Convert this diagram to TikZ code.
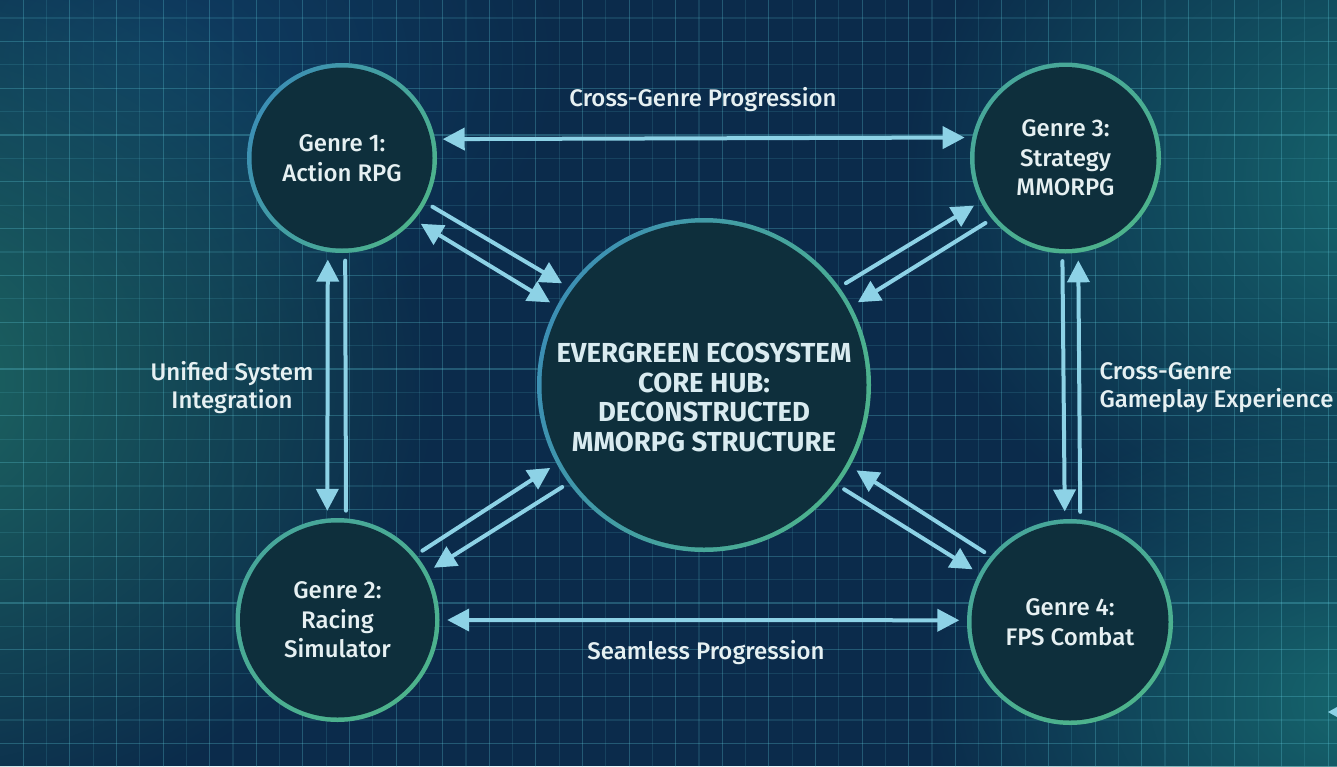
\documentclass[tikz,border=0pt]{standalone}
\usepackage{fontspec}
\setmainfont{Fira Sans}[UprightFont={* Medium}, BoldFont={* Bold}]
\usetikzlibrary{arrows.meta,fadings}
\definecolor{navy}{HTML}{0B2B4B}
\definecolor{tealleft}{HTML}{1E6A64}
\definecolor{tealright}{HTML}{17696F}
\definecolor{bluetop}{HTML}{0F3D62}
\definecolor{gridcol}{HTML}{5CC6D6}
\definecolor{core}{HTML}{0E2F3C}
\definecolor{ringblue}{HTML}{3C8FB4}
\definecolor{ringgreen}{HTML}{4DB38C}
\definecolor{arrowblue}{HTML}{8DD2E6}
\definecolor{txt}{HTML}{E6F0F2}
\definecolor{hubtxt}{HTML}{D9EBF0}
\tikzfading[name=glow, inner color=transparent!0, outer color=transparent!100]

\begin{document}
\begin{tikzpicture}[x=1pt,y=-1pt, line join=round, line cap=round,
	genre/.style={circle, fill=core, text=txt, align=center, inner sep=0pt,
		font=\fontsize{24}{29.5}\selectfont},
	hubnode/.style={circle, fill=core, text=hubtxt, align=center, inner sep=0pt,
		font=\fontsize{27.5}{29.5}\selectfont\bfseries},
	lbl/.style={text=txt, font=\fontsize{24}{28}\selectfont},
	ring/.style={left color=ringblue, right color=ringgreen},
	greenring/.style={left color=ringgreen!65!ringblue, right color=ringgreen},
	flow/.style={draw=arrowblue, line width=4pt, shorten <=12pt, shorten >=12pt,
		>={Triangle[length=22pt,width=22pt]}}]
	\useasboundingbox (0,0) rectangle (1337,766);
	
	% background
	\fill[navy] (0,0) rectangle (1337,766);
	\fill[bluetop, path fading=glow] (150,60) ellipse (420pt and 300pt);
	\fill[tealleft, path fading=glow] (-120,380) ellipse (560pt and 460pt);
	\fill[tealright, path fading=glow] (1420,180) ellipse (520pt and 420pt);
	\fill[tealright, path fading=glow] (1380,700) ellipse (460pt and 300pt);
	
	% grid
	\foreach \i in {1,...,57}{
		\pgfmathsetmacro\op{isodd(\i) ? 0.3 : 0.15}
		\draw[gridcol, opacity=\op, line width=1.1pt] (23.3*\i,0) -- (23.3*\i,766);
	}
	\foreach \j in {0,...,32}{
		\pgfmathsetmacro\op{isodd(\j) ? 0.3 : 0.15}
		\draw[gridcol, opacity=\op, line width=1.1pt] (0,18+23.4*\j) -- (1337,18+23.4*\j);
	}
	
	% circles
	\coordinate (c1) at (342,158);
	\coordinate (c2) at (337.5,620);
	\coordinate (c3) at (1065.5,158);
	\coordinate (c4) at (1070,622);
	\coordinate (ch) at (704,385);
	\shade[ring, shading angle=60] (c1) circle (95pt);
	\shade[greenring, shading angle=40] (c2) circle (102pt);
	\shade[greenring, shading angle=40] (c3) circle (95.5pt);
	\shade[greenring, shading angle=30] (c4) circle (103pt);
	\shade[ring, shading angle=70] (ch) circle (167pt);
	
	\node[genre, minimum size=181pt] (g1) at (c1) {Genre 1:\\Action RPG};
	\node[genre, minimum size=195pt] (g2) at (c2) {Genre 2:\\Racing\\Simulator};
	\node[genre, minimum size=182pt] (g3) at (c3) {Genre 3:\\Strategy\\MMORPG};
	\node[genre, minimum size=197pt] (g4) at (c4) {Genre 4:\\FPS Combat};
	\node[hubnode, minimum size=325pt] (hub) at (ch) {\rule{0pt}{44pt}EVERGREEN ECOSYSTEM\\CORE HUB:\\DECONSTRUCTED\\MMORPG STRUCTURE};
	
	% connectors
	\draw[flow, <->] (g1.12.8) -- (g3.167.1);
	\draw[flow, <->] (g2.0) -- (g4.179);
	\draw[flow, <->] (g1.261) -- (g2.96);
	\draw[flow] (g1.272) -- (g2.85.6);
	\draw[flow, ->] (g3.268.2) -- (g4.93.9);
	\draw[flow, <-] (g3.278.9) -- (g4.84.1);
	\draw[flow, ->] (g1.-28) -- (hub.144.3);
	\draw[flow, <->] (g1.-41.5) -- (hub.152.5);
	\draw[flow, ->] (hub.36.1) -- (g3.207.4);
	\draw[flow, <-] (hub.28.5) -- (g3.220);
	\draw[flow, ->] (g2.40.1) -- (hub.208.9);
	\draw[flow, <-] (g2.28.1) -- (hub.216.9);
	\draw[flow, <-] (hub.-29.9) -- (g4.140);
	\draw[flow, ->] (hub.-37.6) -- (g4.152);
	\fill[arrowblue] (1328,712) -- (1337,707) -- (1337,717) -- cycle;
	
	% labels
	\node[lbl] (top) at (703,100) {Cross-Genre Progression};
	\node[lbl] (bottom) at (706,653) {Seamless Progression};
	\node[lbl, align=center] (left) at (232,388) {Unified System\\Integration};
	\node[lbl, align=left, anchor=west] (right) at (1096,388) {Cross-Genre\\Gameplay Experience};
\end{tikzpicture}
\end{document}
